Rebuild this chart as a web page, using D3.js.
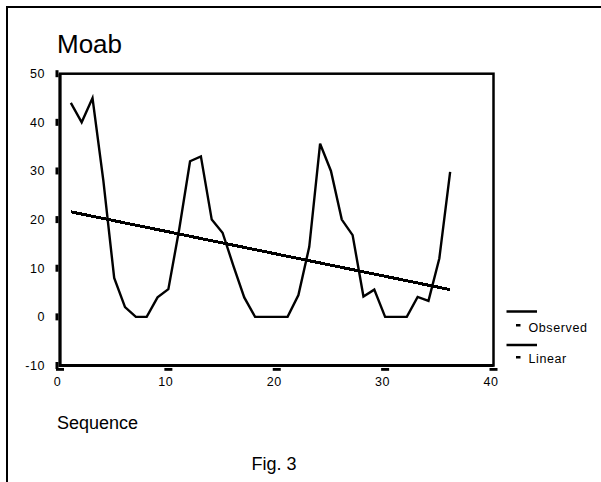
<!DOCTYPE html>
<html>
<head>
<meta charset="utf-8">
<script src="https://cdn.jsdelivr.net/npm/d3@7"></script>
<style>
  html, body { margin: 0; padding: 0; background: #fff; }
  svg { display: block; }
  text { font-family: "Liberation Sans", Arial, sans-serif; fill: #000; }
</style>
</head>
<body>
<div id="chart"></div>
<script>
  // sequence numbers and values
  var sequence = d3.range(1, 37);
  var observed = [44, 40, 45, 28, 8, 2, 0, 0, 4, 5.7, 18, 32, 33, 20, 17.3, 10.5, 4, 0,
    0, 0, 0, 4.5, 14.4, 35.6, 30, 20, 16.8, 4.2, 5.6, 0, 0, 0, 4.1, 3.3, 12, 29.8];
  var linear = [21.6, 21.14, 20.69, 20.23, 19.77, 19.31, 18.86, 18.4, 17.94, 17.49, 17.03, 16.57,
    16.11, 15.66, 15.2, 14.74, 14.29, 13.83, 13.37, 12.91, 12.46, 12.0, 11.54, 11.09,
    10.63, 10.17, 9.71, 9.26, 8.8, 8.34, 7.89, 7.43, 6.97, 6.51, 6.06, 5.6];
  var xTicks = [0, 10, 20, 30, 40];
  var yTicks = [-10, 0, 10, 20, 30, 40, 50];
  var legendLabels = ['Observed', 'Linear'];

  var width = 601, height = 482;
  var svg = d3.select('#chart').append('svg')
    .attr('width', width)
    .attr('height', height);

  // outer frame (only top and left edges show in the window)
  svg.append('path')
    .attr('d', 'M7,' + height + 'V7H' + width)
    .attr('fill', 'none')
    .attr('stroke', '#000')
    .attr('stroke-width', 2);

  var x = d3.scaleLinear().domain([0, 40]).range([60, 493.5]);
  var y = d3.scaleLinear().domain([-10, 50]).range([365.5, 73.7]);

  // plot frame
  svg.append('rect')
    .attr('x', x(0))
    .attr('y', y(50))
    .attr('width', x(40) - x(0))
    .attr('height', y(-10) - y(50))
    .attr('fill', 'none')
    .attr('stroke', '#000')
    .attr('stroke-width', 2.5);
  // heavier left and bottom axis lines
  svg.append('path')
    .attr('d', 'M' + x(0) + ',' + y(50) + 'V' + y(-10) + 'H' + x(40))
    .attr('fill', 'none')
    .attr('stroke', '#000')
    .attr('stroke-width', 3);

  // y ticks: short vertical marks left of the axis
  var gy = svg.append('g');
  gy.selectAll('rect')
    .data(yTicks)
    .enter()
    .append('rect')
    .attr('x', 55.5)
    .attr('y', function (d) { return y(d) - 3.5; })
    .attr('width', 3)
    .attr('height', 7)
    .attr('fill', '#000');
  gy.selectAll('text')
    .data(yTicks)
    .enter()
    .append('text')
    .text(function (d) { return d; })
    .attr('x', 45)
    .attr('y', function (d) { return y(d) + 4.5; })
    .attr('text-anchor', 'end')
    .attr('font-size', 12.5)
    .attr('letter-spacing', 0.6);

  // x ticks: short horizontal marks below the axis
  var gx = svg.append('g');
  gx.selectAll('rect')
    .data(xTicks)
    .enter()
    .append('rect')
    .attr('x', function (d) { return x(d) - 4; })
    .attr('y', 368)
    .attr('width', 8)
    .attr('height', 2.8)
    .attr('fill', '#000');
  gx.selectAll('text')
    .data(xTicks)
    .enter()
    .append('text')
    .text(function (d) { return d; })
    .attr('x', function (d) { return x(d) - 2.5; })
    .attr('y', 385.5)
    .attr('text-anchor', 'middle')
    .attr('font-size', 12.5)
    .attr('letter-spacing', 0.6);

  var line = d3.line()
    .x(function (d) { return x(d[0]); })
    .y(function (d) { return y(d[1]); });

  // Observed series
  svg.append('path')
    .datum(d3.zip(sequence, observed))
    .attr('d', line)
    .attr('fill', 'none')
    .attr('stroke', '#000')
    .attr('stroke-width', 2.4)
    .attr('stroke-linejoin', 'miter');

  // Linear fit (drawn aliased, which gives the stepped look)
  svg.append('path')
    .datum(d3.zip(sequence, linear))
    .attr('d', line)
    .attr('fill', 'none')
    .attr('stroke', '#000')
    .attr('stroke-width', 3)
    .attr('shape-rendering', 'crispEdges');

  // legend
  var legend = svg.append('g')
    .selectAll('g')
    .data(legendLabels)
    .enter()
    .append('g');
  legend.append('line')
    .attr('x1', 506.5)
    .attr('x2', 537)
    .attr('y1', function (d, i) { return 311.5 + i * 33.5; })
    .attr('y2', function (d, i) { return 311.5 + i * 33.5; })
    .attr('stroke', '#000')
    .attr('stroke-width', 2.5);
  legend.append('rect')
    .attr('x', 516)
    .attr('y', function (d, i) { return 324 + i * 32; })
    .attr('width', 4.5)
    .attr('height', 2.5)
    .attr('fill', '#000');
  legend.append('text')
    .text(function (d) { return d; })
    .attr('x', 528.5)
    .attr('y', function (d, i) { return 331.5 + i * 31; })
    .attr('font-size', 12.5)
    .attr('letter-spacing', 0.6);

  // titles
  svg.append('text')
    .text('Moab')
    .attr('x', 57)
    .attr('y', 52.5)
    .attr('font-size', 26);
  svg.append('text')
    .text('Sequence')
    .attr('x', 57)
    .attr('y', 429)
    .attr('font-size', 18);
  svg.append('text')
    .text('Fig. 3')
    .attr('x', 251.5)
    .attr('y', 470)
    .attr('font-size', 18);
</script>
</body>
</html>
